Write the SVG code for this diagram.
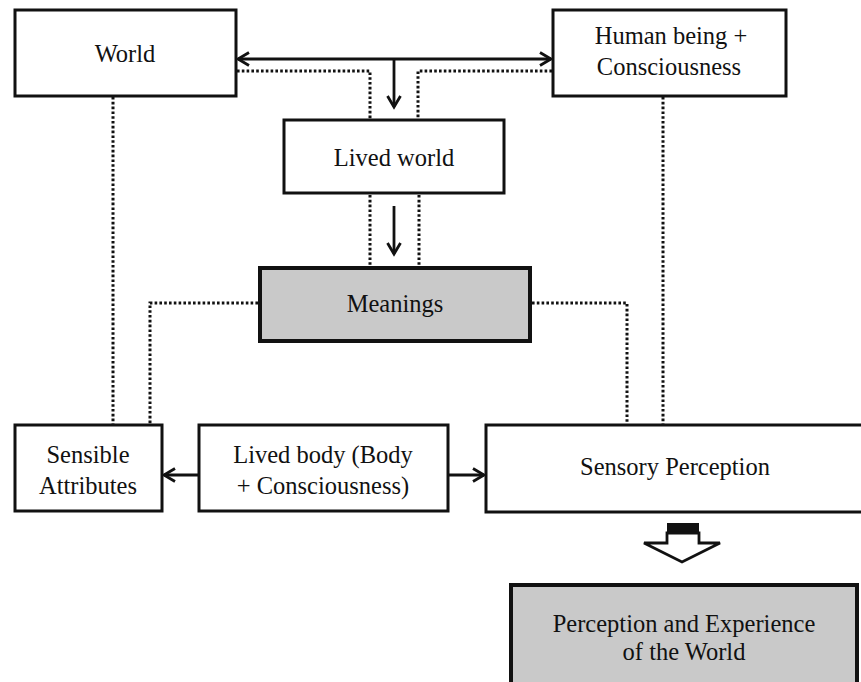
<svg xmlns="http://www.w3.org/2000/svg" width="861" height="682" viewBox="0 0 861 682">
<defs>
<marker id="ah" markerWidth="16" markerHeight="16" viewBox="0 0 16 16" refX="13" refY="8" orient="auto" markerUnits="userSpaceOnUse">
<path d="M2,1.5 L13,8 L2,14.5" fill="none" stroke="#111" stroke-width="2.8"/>
</marker>
<marker id="ahs" markerWidth="16" markerHeight="16" viewBox="0 0 16 16" refX="3" refY="8" orient="auto" markerUnits="userSpaceOnUse">
<path d="M14,1.5 L3,8 L14,14.5" fill="none" stroke="#111" stroke-width="2.8"/>
</marker>
<style>
.box{fill:#fff;stroke:#111;stroke-width:3}
.gbox{fill:#c9c9c9;stroke:#111;stroke-width:4}
.t{font-family:"Liberation Serif","Times New Roman",serif;font-size:24.5px;fill:#111;text-anchor:middle}
.dot{fill:none;stroke:#111;stroke-width:3;stroke-dasharray:2.6 2.2}
.ln{fill:none;stroke:#111;stroke-width:2.8}
</style>
</defs>
<rect width="861" height="682" fill="#fff"/>
<g id="connectors">
<line class="ln" x1="238" y1="59" x2="551" y2="59" marker-start="url(#ahs)" marker-end="url(#ah)"/>
<line class="ln" x1="394" y1="59" x2="394" y2="107" marker-end="url(#ah)"/>
<line class="ln" x1="394" y1="206" x2="394" y2="254" marker-end="url(#ah)"/>
<path class="dot" d="M237,71 H370 V119"/>
<path class="dot" d="M552,71 H418 V119"/>
<line class="dot" x1="370" y1="195" x2="370" y2="266"/>
<line class="dot" x1="419" y1="195" x2="419" y2="266"/>
<line class="dot" x1="113" y1="97" x2="113" y2="424"/>
<line class="dot" x1="663" y1="97" x2="663" y2="424"/>
<path class="dot" d="M258,303 H150 V424"/>
<path class="dot" d="M532,303 H627 V424"/>
<line class="ln" x1="199" y1="475" x2="164" y2="475" marker-end="url(#ah)"/>
<line class="ln" x1="448" y1="475" x2="484" y2="475" marker-end="url(#ah)"/>
<rect x="667" y="523" width="32" height="10" fill="#111"/>
<polygon points="667,533 667,543 644,543 682,562 720,543 699,543 699,533" fill="#fff" stroke="#111" stroke-width="2.8" stroke-linejoin="miter"/>
</g>
<g id="world"><rect class="box" x="15" y="10" width="221" height="86"/><text class="t" x="125" y="62">World</text></g>
<g id="human"><rect class="box" x="553" y="10" width="233" height="86"/><text class="t" x="671" y="44">Human being +</text><text class="t" x="669" y="75">Consciousness</text></g>
<g id="lived-world"><rect class="box" x="284" y="120" width="220" height="73"/><text class="t" x="394" y="166">Lived world</text></g>
<g id="meanings"><rect class="gbox" x="260" y="268" width="270" height="73"/><text class="t" x="395" y="312">Meanings</text></g>
<g id="sensible"><rect class="box" x="15" y="425" width="147" height="86"/><text class="t" x="88" y="463">Sensible</text><text class="t" x="88" y="494">Attributes</text></g>
<g id="lived-body"><rect class="box" x="199" y="425" width="249" height="86"/><text class="t" x="323" y="463">Lived body (Body</text><text class="t" x="323" y="494">+ Consciousness)</text></g>
<g id="sensory"><rect class="box" x="486" y="425" width="390" height="87"/><text class="t" x="675" y="475">Sensory Perception</text></g>
<g id="perception"><rect class="gbox" x="511" y="585" width="346" height="110"/><text class="t" x="684" y="632">Perception and Experience</text><text class="t" x="684" y="660">of the World</text></g>
</svg>
